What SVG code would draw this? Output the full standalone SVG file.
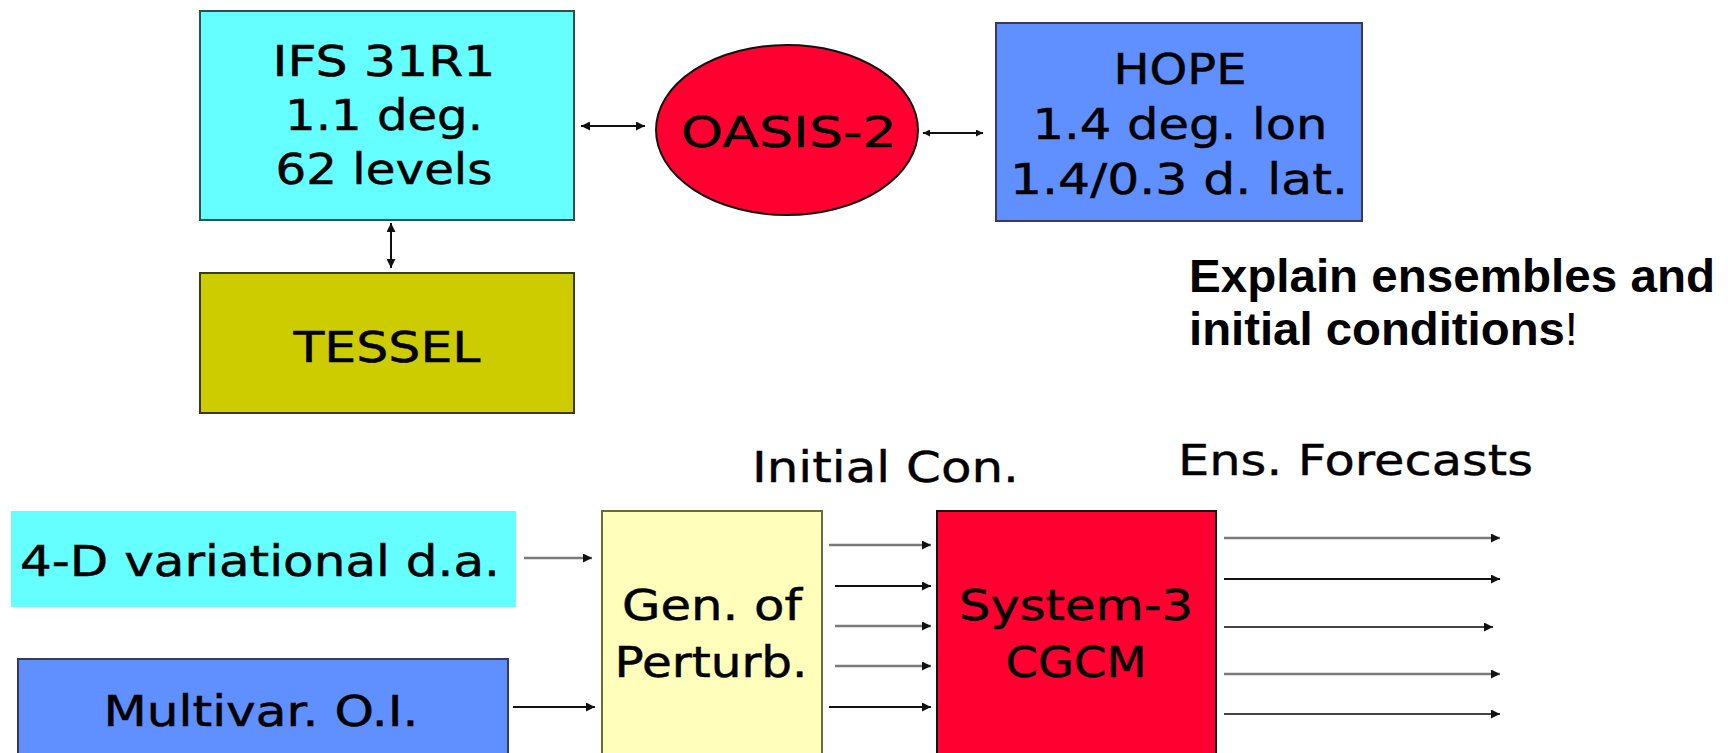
<svg xmlns="http://www.w3.org/2000/svg" width="1728" height="753" viewBox="0 0 1728 753">
<style>
  .t { font-family: "DejaVu Sans", Verdana, sans-serif; font-size: 43.5px; fill: #000; stroke: #000; stroke-width: 0.5; text-anchor: middle; }
  .tb { font-family: "DejaVu Sans", Verdana, sans-serif; font-size: 42px; fill: #000; stroke: #000; stroke-width: 0.5; text-anchor: middle; }
  .lbl { font-family: "DejaVu Sans", Verdana, sans-serif; font-size: 43.5px; fill: #000; stroke: #000; stroke-width: 0.4; }
  .note { font-family: "Liberation Sans", Arial, sans-serif; font-size: 47px; font-weight: bold; fill: #000; }
  .con { fill: none; stroke: #111; stroke-width: 2; }
  .gray { stroke: #7a7a7a; stroke-width: 2.5; }
  .mid { stroke: #444; }
</style>
<defs>
  <marker id="ah" viewBox="0 0 10 10" refX="10" refY="5" markerWidth="10" markerHeight="9" markerUnits="userSpaceOnUse" orient="auto-start-reverse">
    <path d="M0,0 L10,5 L0,10 z" fill="#111"/>
  </marker>
  <marker id="ahs" viewBox="0 0 10 10" refX="10" refY="5" markerWidth="8" markerHeight="7" markerUnits="userSpaceOnUse" orient="auto-start-reverse">
    <path d="M0,0 L10,5 L0,10 z" fill="#111"/>
  </marker>
</defs>
<rect width="1728" height="753" fill="#fff"/>

<g id="ifs">
  <rect x="200" y="11" width="374" height="209" fill="#66FFFF" stroke="#2f4f4f" stroke-width="2"/>
  <text class="t" x="384" y="75.5" textLength="223" lengthAdjust="spacingAndGlyphs">IFS 31R1</text>
  <text class="t" x="384" y="130" textLength="198" lengthAdjust="spacingAndGlyphs">1.1 deg.</text>
  <text class="t" x="384" y="184" textLength="217" lengthAdjust="spacingAndGlyphs">62 levels</text>
</g>
<g id="tessel">
  <rect x="200" y="273" width="374" height="140" fill="#CCCC00" stroke="#3a3a10" stroke-width="2"/>
  <text class="t" x="387" y="362" textLength="187" lengthAdjust="spacingAndGlyphs">TESSEL</text>
</g>
<g id="oasis">
  <ellipse cx="787" cy="130" rx="131" ry="85" fill="#FF0030" stroke="#111" stroke-width="2"/>
  <text class="t" x="789" y="147" textLength="216" lengthAdjust="spacingAndGlyphs">OASIS-2</text>
</g>
<g id="hope">
  <rect x="996" y="23" width="366" height="198" fill="#608FFF" stroke="#3a3a55" stroke-width="2"/>
  <text class="t" x="1180" y="83.5" textLength="133" lengthAdjust="spacingAndGlyphs">HOPE</text>
  <text class="t" x="1180" y="139" textLength="295" lengthAdjust="spacingAndGlyphs">1.4 deg. lon</text>
  <text class="t" x="1179" y="194" textLength="338" lengthAdjust="spacingAndGlyphs">1.4/0.3 d. lat.</text>
</g>
<g id="note">
  <text class="note" x="1189" y="292" textLength="526" lengthAdjust="spacingAndGlyphs">Explain ensembles and</text>
  <text class="note" x="1189" y="345" textLength="389" lengthAdjust="spacingAndGlyphs">initial conditions<tspan font-weight="normal">!</tspan></text>
</g>
<g id="label-initial">
  <text class="lbl" x="752" y="482" textLength="267" lengthAdjust="spacingAndGlyphs">Initial Con.</text>
</g>
<g id="label-ens">
  <text class="lbl" x="1178" y="475" textLength="355" lengthAdjust="spacingAndGlyphs">Ens. Forecasts</text>
</g>
<g id="var4d">
  <rect x="11" y="511" width="505" height="96" fill="#66FFFF"/>
  <text class="tb" x="260" y="576" textLength="480" lengthAdjust="spacingAndGlyphs">4-D variational d.a.</text>
</g>
<g id="multivar">
  <rect x="18" y="659" width="490" height="110" fill="#608FFF" stroke="#3a3a55" stroke-width="2"/>
  <text class="tb" x="261" y="726" textLength="315" lengthAdjust="spacingAndGlyphs">Multivar. O.I.</text>
</g>
<g id="gen">
  <rect x="602" y="511" width="220" height="260" fill="#FFFFBB" stroke="#6b6b3a" stroke-width="2"/>
  <text class="tb" x="712" y="620" textLength="180" lengthAdjust="spacingAndGlyphs">Gen. of</text>
  <text class="tb" x="711" y="677" textLength="193" lengthAdjust="spacingAndGlyphs">Perturb.</text>
</g>
<g id="system3">
  <rect x="937" y="511" width="279" height="260" fill="#FF0030" stroke="#111" stroke-width="2"/>
  <text class="tb" x="1076" y="620" textLength="234" lengthAdjust="spacingAndGlyphs">System-3</text>
  <text class="tb" x="1076" y="677" textLength="141" lengthAdjust="spacingAndGlyphs">CGCM</text>
</g>

<g id="connectors">
  <line class="con" x1="581" y1="126" x2="645" y2="126" marker-start="url(#ah)" marker-end="url(#ah)"/>
  <line class="con" x1="923" y1="133" x2="983" y2="133" marker-start="url(#ahs)" marker-end="url(#ahs)"/>
  <line class="con" x1="391" y1="223" x2="391" y2="268" marker-start="url(#ah)" marker-end="url(#ah)"/>
  <line class="con gray" x1="524" y1="558" x2="592" y2="558" marker-end="url(#ah)"/>
  <line class="con" x1="513" y1="707" x2="595" y2="707" marker-end="url(#ah)"/>
  <line class="con gray" x1="829" y1="545" x2="931" y2="545" marker-end="url(#ah)"/>
  <line class="con" x1="835" y1="586" x2="931" y2="586" marker-end="url(#ah)"/>
  <line class="con gray" x1="835" y1="626" x2="931" y2="626" marker-end="url(#ah)"/>
  <line class="con gray" x1="835" y1="666" x2="931" y2="666" marker-end="url(#ah)"/>
  <line class="con" x1="829" y1="707" x2="931" y2="707" marker-end="url(#ah)"/>
  <line class="con gray" x1="1224" y1="538" x2="1500" y2="538" marker-end="url(#ah)"/>
  <line class="con" x1="1224" y1="579" x2="1500" y2="579" marker-end="url(#ah)"/>
  <line class="con mid" x1="1224" y1="627" x2="1493" y2="627" marker-end="url(#ah)"/>
  <line class="con gray" x1="1224" y1="674" x2="1500" y2="674" marker-end="url(#ah)"/>
  <line class="con mid" x1="1224" y1="714" x2="1500" y2="714" marker-end="url(#ah)"/>
</g>
</svg>
